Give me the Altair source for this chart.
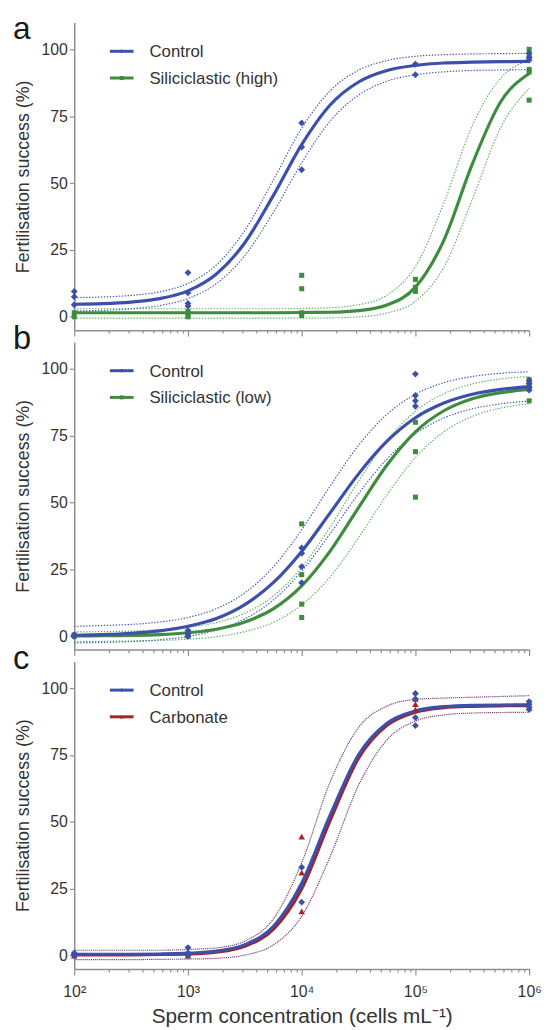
import altair as alt
import pandas as pd

# ---------------- data ----------------
# concentrations (cells/mL) at which the fitted curves were read
conc_grid = [100, 178, 316, 562, 1000, 1778, 3162, 5623, 10000, 17783, 31623,
             56234, 100000, 177828, 316228, 562341, 1000000]

# panel a : Control vs Siliciclastic (high)
a_ctrl_x = [100, 100, 100, 1000, 1000, 1000, 1000, 10000, 10000, 10000,
            100000, 100000, 1000000, 1000000, 1000000]
a_ctrl_y = [9.5, 7.5, 4.5, 16.5, 9.0, 5.0, 4.0, 72.5, 63.5, 55.0,
            94.5, 90.5, 98.5, 97.0, 96.0]
a_high_x = [100, 100, 1000, 1000, 1000, 10000, 10000, 10000, 10000,
            100000, 100000, 100000, 1000000, 1000000, 1000000, 1000000, 1000000]
a_high_y = [1.5, 0.0, 2.0, 1.0, 0.0, 15.5, 10.5, 1.5, 0.5,
            14.0, 11.0, 9.5, 100.0, 97.5, 92.5, 91.5, 81.0]
a_ctrl_fit = [4.7, 4.9, 5.5, 6.8, 9.7, 16.0, 27.7, 45.3, 64.4, 79.2, 87.8,
              92.1, 94.0, 94.9, 95.2, 95.4, 95.5]
a_ctrl_hi = [7.2, 7.4, 8.0, 9.3, 12.5, 19.4, 32.3, 51.1, 70.5, 84.5, 92.2,
             95.8, 97.4, 98.0, 98.3, 98.4, 98.5]
a_ctrl_lo = [2.2, 2.4, 3.0, 4.2, 6.8, 12.4, 22.9, 39.0, 57.6, 73.2, 82.9,
             88.1, 90.5, 91.6, 92.1, 92.3, 92.4]
a_high_fit = [1.5, 1.5, 1.5, 1.5, 1.5, 1.5, 1.5, 1.5, 1.6, 1.7, 2.3,
              4.4, 11.1, 28.6, 57.1, 80.4, 91.0]
a_high_hi = [3.0, 3.0, 3.0, 3.0, 3.0, 3.0, 3.0, 3.0, 3.1, 3.4, 4.5,
             8.1, 18.8, 42.5, 71.5, 89.2, 96.0]
a_high_lo = [-0.5, -0.5, -0.5, -0.5, -0.5, -0.5, -0.5, -0.5, -0.5, -0.4, 0.0,
             1.4, 5.8, 18.5, 43.9, 70.8, 85.4]

# panel b : Control vs Siliciclastic (low)
b_ctrl_x = [100, 100, 100, 1000, 1000, 1000, 10000, 10000, 10000, 10000,
            100000, 100000, 100000, 100000, 1000000, 1000000, 1000000, 1000000]
b_ctrl_y = [0.0, 0.5, 0.0, 2.2, 1.0, 0.0, 33.0, 31.0, 26.0, 20.0,
            98.0, 90.0, 88.0, 86.0, 95.5, 94.5, 93.0, 92.0]
b_low_x = [100, 100, 1000, 1000, 10000, 10000, 10000, 10000,
           100000, 100000, 100000, 1000000, 1000000, 1000000, 1000000]
b_low_y = [0.0, 0.5, 1.0, 0.0, 42.0, 23.0, 12.0, 7.0,
           69.0, 52.0, 80.0, 96.0, 94.0, 93.0, 88.0]
b_ctrl_fit = [0.3, 0.6, 1.1, 2.0, 3.7, 6.6, 11.8, 20.0, 31.7, 46.1, 60.7,
              72.9, 81.7, 87.2, 90.5, 92.3, 93.3]
b_ctrl_hi = [3.7, 4.0, 4.4, 5.3, 7.0, 10.3, 16.2, 25.9, 39.8, 56.1, 71.4,
             83.0, 90.5, 94.8, 97.1, 98.3, 98.9]
b_ctrl_lo = [-2.5, -2.3, -2.0, -1.3, -0.1, 2.3, 6.5, 13.5, 24.3, 38.3, 53.3,
             66.3, 75.7, 81.6, 85.0, 86.9, 87.9]
b_low_fit = [0.1, 0.2, 0.3, 0.6, 1.3, 2.6, 5.3, 10.2, 18.8, 31.8, 48.1,
             64.0, 76.4, 84.3, 88.8, 91.1, 92.3]
b_low_hi = [1.6, 1.7, 1.9, 2.4, 3.3, 5.1, 8.6, 15.0, 25.7, 40.8, 58.0,
            73.2, 84.1, 90.7, 94.3, 96.2, 97.1]
b_low_lo = [-2.0, -1.9, -1.8, -1.6, -1.1, -0.2, 1.7, 5.2, 11.7, 22.2, 36.8,
            52.9, 66.8, 76.4, 82.2, 85.3, 86.9]

# panel c : Control vs Carbonate
c_ctrl_x = [100, 100, 100, 1000, 1000, 1000, 10000, 10000, 10000,
            100000, 100000, 100000, 100000, 1000000, 1000000, 1000000, 1000000]
c_ctrl_y = [0.0, 0.5, 1.0, 3.0, 1.0, 0.0, 33.0, 26.0, 20.0,
            98.0, 96.0, 89.0, 86.0, 95.0, 94.0, 93.0, 92.0]
c_carb_x = [100, 1000, 1000, 10000, 10000, 10000, 100000, 100000, 100000]
c_carb_y = [0.0, 0.0, 1.0, 44.5, 31.0, 16.5, 96.0, 94.0, 92.0]
c_ctrl_fit = [0.5, 0.5, 0.5, 0.6, 0.9, 1.7, 4.1, 10.9, 27.1, 52.5, 75.1,
              86.9, 91.5, 93.1, 93.6, 93.7, 93.8]
c_carb_fit = [0.3, 0.3, 0.3, 0.4, 0.6, 1.3, 3.5, 9.8, 25.0, 50.5, 73.8,
              86.1, 91.0, 92.7, 93.2, 93.4, 93.5]
c_ci_hi = [2.0, 2.0, 2.0, 2.0, 2.3, 2.9, 5.4, 13.7, 34.7, 64.9, 85.3,
           93.3, 95.8, 96.3, 96.6, 96.9, 97.2]
c_ci_lo = [-1.5, -1.5, -1.5, -1.4, -1.3, -1.0, 0.2, 4.0, 14.7, 37.0, 63.7,
           80.7, 87.7, 90.0, 90.7, 90.9, 91.0]

# axis labels / texts
x_major = [100, 1000, 10000, 100000, 1000000]
x_tick_labels = ["10²", "10³", "10⁴", "10⁵", "10⁶"]
y_ticks = [0, 25, 50, 75, 100]
panel_letters = ["a", "b", "c"]
legend_a = ["Control", "Siliciclastic (high)"]
legend_b = ["Control", "Siliciclastic (low)"]
legend_c = ["Control", "Carbonate"]
x_title = "Sperm concentration (cells mL⁻¹)"
y_title = "Fertilisation success (%)"

# ---------------- styling ----------------
BLUE = "#3b4fab"
BLUE_CI = "#4458b5"
GREEN = "#3e8c3e"
GREEN_CI = "#62ad62"
RED = "#a32428"
RED_CI = "#a5303a"
AXIS = "#8f8f8f"
TXT = "#333333"
FONT = "Liberation Sans"
W, H = 460, 311

x_minor = [m * 10 ** k for k in range(2, 6) for m in range(2, 10)]
x_axis_values = sorted(x_major + x_minor)
label_expr = " : ".join(f"datum.value == {v} ? '{t}'" for v, t in zip(x_major, x_tick_labels)) + " : ''"
major_test = " || ".join(f"datum.value == {v}" for v in x_major)

xscale = alt.Scale(type="log", domain=[100, 1000000], nice=False)
yscale = alt.Scale(domain=[-5, 110], nice=False, zero=False)


def x_axis(show):
    common = dict(values=x_axis_values, grid=False, domainColor=AXIS, domainWidth=1.5,
                  tickColor=AXIS, tickWidth=1.2, labelOverlap=False, labelFlush=False,
                  tickSize={"condition": {"test": major_test, "value": 6}, "value": 3})
    if show:
        return alt.Axis(title=x_title, labelExpr=label_expr, labelFontSize=16, labelPadding=9,
                        titleFontSize=21, titlePadding=6, titleFontWeight="normal",
                        labelColor=TXT, titleColor=TXT, labelFont=FONT, titleFont=FONT, **common)
    return alt.Axis(title=None, labels=False, **common)


y_axis = alt.Axis(values=y_ticks, title=y_title, grid=False, domainColor=AXIS, domainWidth=1.5,
                  tickColor=AXIS, tickWidth=1.2, tickSize=5, labelFontSize=16, labelPadding=2,
                  labelColor=TXT, labelFont=FONT, titleFont=FONT, titleFontSize=18,
                  titleFontWeight="normal", titleColor=TXT, titlePadding=9)


def enc(show):
    return dict(x=alt.X("conc:Q", scale=xscale, axis=x_axis(show)),
                y=alt.Y("v:Q", scale=yscale, axis=y_axis))


def ci_layer(hi, lo, color, show, offset=0, dash=(1.4, 1.6)):
    df = pd.DataFrame({"conc": conc_grid + conc_grid, "v": hi + lo,
                       "kind": ["hi"] * len(hi) + ["lo"] * len(lo)})
    return alt.Chart(df).mark_line(color=color, strokeWidth=1.2, strokeDash=list(dash),
                                   strokeDashOffset=offset, interpolate="monotone").encode(
        detail="kind:N", **enc(show))


def fit_layer(fit, color, show):
    df = pd.DataFrame({"conc": conc_grid, "v": fit})
    return alt.Chart(df).mark_line(color=color, strokeWidth=3.2, interpolate="monotone").encode(**enc(show))


def pts_layer(xs, ys, color, shape, size, show):
    df = pd.DataFrame({"conc": xs, "v": ys})
    return alt.Chart(df).mark_point(filled=True, color=color, shape=shape, size=size, opacity=1).encode(**enc(show))


def legend_layers(labels, colors, shapes):
    out = []
    for i, (lab, col, shp) in enumerate(zip(labels, colors, shapes)):
        yy = 29 + 27 * i
        d = pd.DataFrame({"t": [lab]})
        out.append(alt.Chart(d).mark_rule(color=col, strokeWidth=3).encode(
            x=alt.value(36), x2=alt.value(60), y=alt.value(yy)))
        out.append(alt.Chart(d).mark_point(color=col, shape=shp, filled=True, size=16, opacity=1).encode(
            x=alt.value(48), y=alt.value(yy)))
        out.append(alt.Chart(d).mark_text(align="left", baseline="middle", fontSize=17, font=FONT,
                                          color=TXT).encode(text="t:N", x=alt.value(76), y=alt.value(yy + 1)))
    return out


def letter_layer(letter, y, size):
    d = pd.DataFrame({"t": [letter]})
    return alt.Chart(d).mark_text(align="left", baseline="alphabetic", fontSize=size, font=FONT,
                                  color="#1a1a1a").encode(text="t:N", x=alt.value(-62), y=alt.value(y))


# panel a
pa = alt.layer(
    ci_layer(a_high_hi, a_high_lo, GREEN_CI, False),
    ci_layer(a_ctrl_hi, a_ctrl_lo, BLUE_CI, False),
    fit_layer(a_high_fit, GREEN, False),
    fit_layer(a_ctrl_fit, BLUE, False),
    pts_layer(a_high_x, a_high_y, GREEN, "square", 26, False),
    pts_layer(a_ctrl_x, a_ctrl_y, BLUE, "diamond", 48, False),
    *legend_layers(legend_a, [BLUE, GREEN], ["diamond", "square"]),
    letter_layer(panel_letters[0], 17, 32),
).properties(width=W, height=H)

# panel b
pb = alt.layer(
    ci_layer(b_low_hi, b_low_lo, GREEN_CI, False),
    ci_layer(b_ctrl_hi, b_ctrl_lo, BLUE_CI, False),
    fit_layer(b_low_fit, GREEN, False),
    fit_layer(b_ctrl_fit, BLUE, False),
    pts_layer(b_low_x, b_low_y, GREEN, "square", 26, False),
    pts_layer(b_ctrl_x, b_ctrl_y, BLUE, "diamond", 48, False),
    *legend_layers(legend_b, [BLUE, GREEN], ["diamond", "square"]),
    letter_layer(panel_letters[1], 7, 33),
).properties(width=W, height=H)

# panel c
pc = alt.layer(
    ci_layer(c_ci_hi, c_ci_lo, BLUE_CI, True, offset=0, dash=(1.2, 3.0)),
    ci_layer(c_ci_hi, c_ci_lo, RED_CI, True, offset=2.1, dash=(1.2, 3.0)),
    fit_layer(c_carb_fit, RED, True),
    fit_layer(c_ctrl_fit, BLUE, True),
    pts_layer(c_carb_x, c_carb_y, RED, "triangle-up", 45, True),
    pts_layer(c_ctrl_x, c_ctrl_y, BLUE, "diamond", 48, True),
    *legend_layers(legend_c, [BLUE, RED], ["diamond", "triangle-up"]),
    letter_layer(panel_letters[2], 8, 33),
).properties(width=W, height=H)

chart = alt.vconcat(pa, pb, pc, spacing=12, bounds="flush").properties(
    padding={"left": 5, "top": 0, "right": 0, "bottom": 5}
).configure_view(stroke=None)

chart.save("out.html", embed_options={"renderer": "svg", "actions": False})
